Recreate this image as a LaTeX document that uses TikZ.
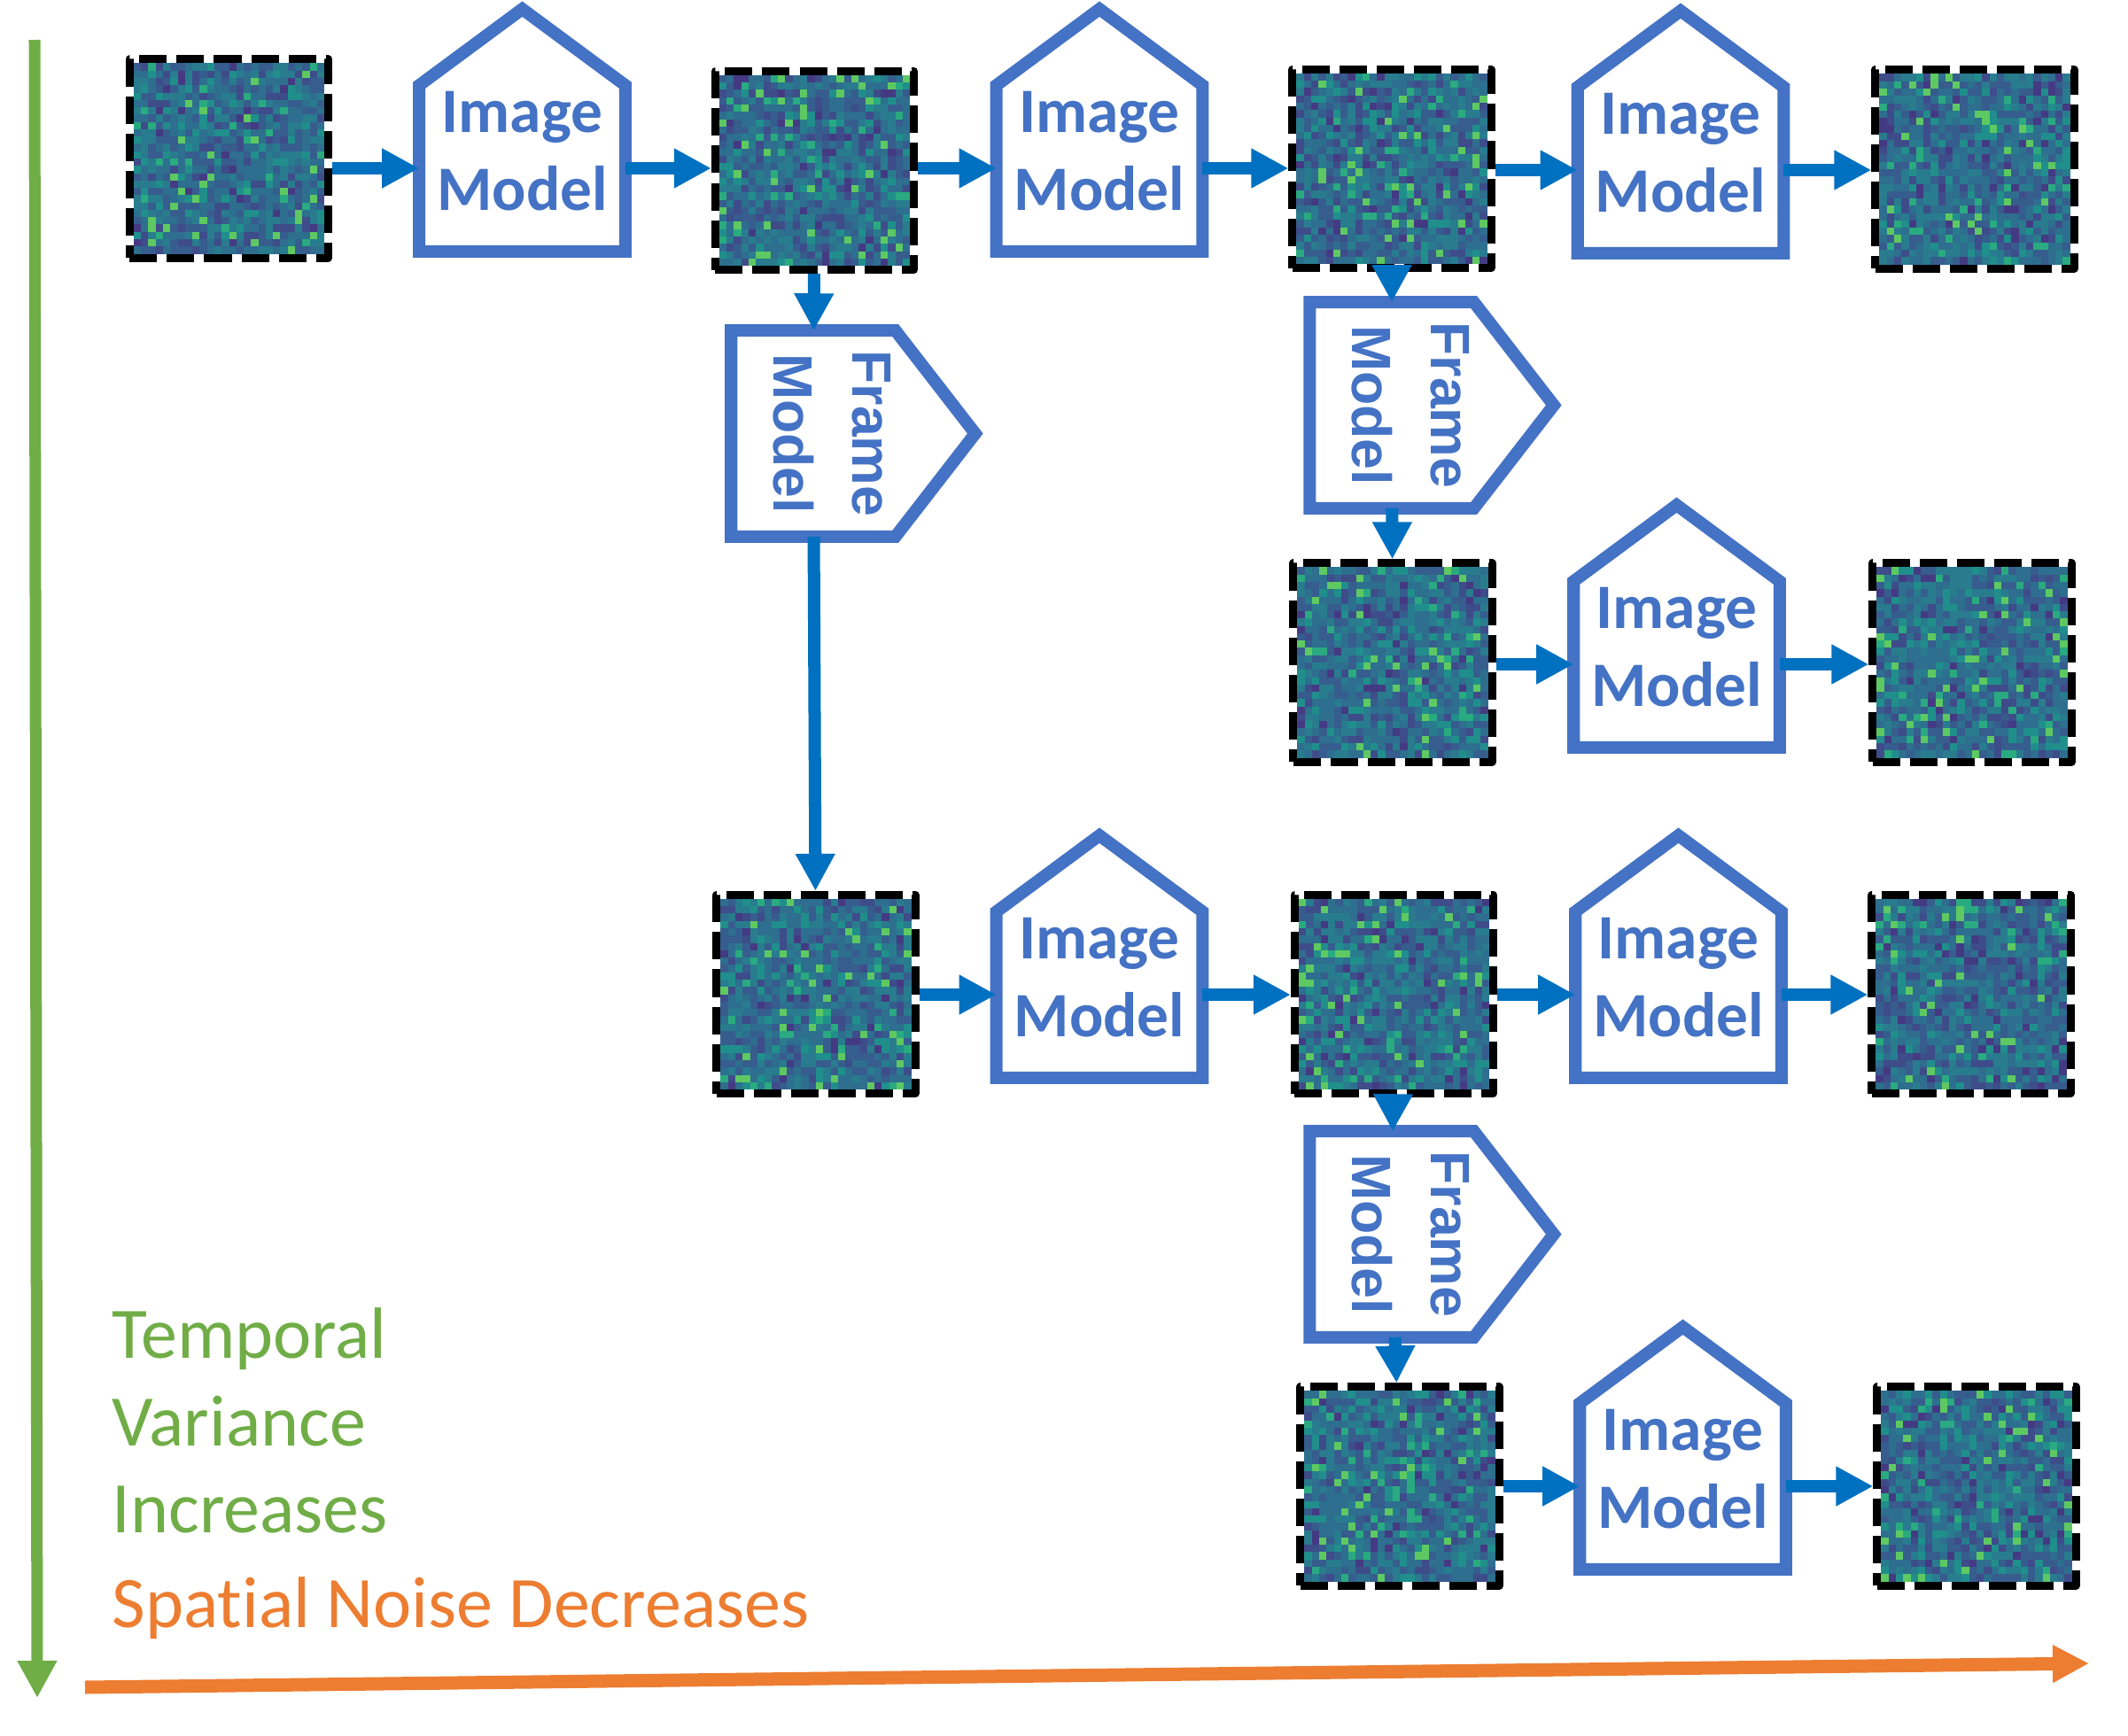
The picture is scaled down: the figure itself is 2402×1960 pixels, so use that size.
\documentclass[tikz,border=0pt]{standalone}
\usepackage{graphicx}
\usepackage{fontspec}
\setmainfont{Carlito}[Ligatures=NoCommon]
\newfontfamily\framefont{Liberation Sans}
\usetikzlibrary{arrows.meta}
\definecolor{mblue}{HTML}{4472C4}
\definecolor{fblue}{HTML}{0070C0}
\definecolor{tgreen}{HTML}{70AD47}
\definecolor{sorange}{HTML}{ED7D31}
\definecolor{nzA}{HTML}{443A83}
\definecolor{nzB}{HTML}{3E4C8A}
\definecolor{nzC}{HTML}{365D8D}
\definecolor{nzD}{HTML}{2E6E8E}
\definecolor{nzE}{HTML}{287C8E}
\definecolor{nzF}{HTML}{208F8C}
\definecolor{nzG}{HTML}{2AAA80}
\definecolor{nzH}{HTML}{5EC962}
\newcommand{\noisecol}[1]{\ifcase#1 nzA\or nzB\or nzB\or nzC\or nzC\or nzC\or nzC\or nzD\or nzD\or nzD\or nzD\or nzD\or nzE\or nzE\or nzE\or nzE\or nzF\or nzF\or nzG\or nzH\fi}
\newcommand{\imlabel}{\raisebox{0pt}[\dimexpr\height-0.29cm\relax][\depth]{\begin{tabular}{@{}c@{}}Image\\Model\end{tabular}}}
\newcommand{\fmlabel}{\makebox[1cm]{\hspace*{0.35cm}\rotatebox{-90}{\begin{tabular}{@{}c@{}}Frame\\Model\end{tabular}}}}
\pgfmathsetseed{4711}

\begin{document}
\begin{tikzpicture}[x=0.01cm,y=-0.01cm]
            \tikzstyle{every node}+=[inner sep=0pt]
            \tikzstyle{noisebox}=[draw=black, line width=0.09cm, dash pattern=on 0.31cm off 0.11cm, line join=round, minimum size=2.24cm,
              path picture={
                \foreach \i in {0,...,25}{\foreach \j in {0,...,25}{
                  \pgfmathrandominteger{\k}{0}{19}\edef\ncol{\noisecol{\k}}
                  \fill[\ncol] ([xshift=0.045cm+\i*0.0827cm,yshift=0.045cm+\j*0.0827cm]path picture bounding box.south west) rectangle ++(0.0835cm,0.0835cm);}}}]
            \tikzstyle{imgmodel}=[minimum width=2.31cm, minimum height=1.86cm, text=mblue, font=\fontsize{20.3}{25}\selectfont\bfseries]
            \tikzstyle{framemodel}=[minimum width=1.84cm, minimum height=2.31cm, text=mblue, font=\fontsize{17.8}{25.3}\framefont\bfseries]
            \tikzstyle{outline}=[draw=mblue, line width=0.14cm]
            \tikzstyle{flow}=[draw=fblue, line width=0.14cm, -{Triangle[length=0.42cm,width=0.42cm]}]
            \tikzstyle{axislabel}=[anchor=base west, font=\fontsize{23.3}{28}\selectfont]
            \useasboundingbox (0,0) rectangle (2402,1960);
            \node[noisebox] (s1) at (258.5,179) {};
            \node[noisebox] (s2) at (919.5,192.5) {};
            \node[noisebox] (s3) at (1571,190.5) {};
            \node[noisebox] (s4) at (2229,191) {};
            \node[noisebox] (s5) at (1572,748) {};
            \node[noisebox] (s6) at (2226,748) {};
            \node[noisebox] (s7) at (921,1122.5) {};
            \node[noisebox] (s8) at (1573.5,1122.5) {};
            \node[noisebox] (s9) at (2225,1122.5) {};
            \node[noisebox] (s10) at (1580,1678) {};
            \node[noisebox] (s11) at (2231,1678) {};
            \node[imgmodel] (im1) at (589.5,190) {\imlabel};
            \node[imgmodel] (im2) at (1241,190) {\imlabel};
            \node[imgmodel] (im3) at (1897,192) {\imlabel};
            \node[imgmodel] (im4) at (1892.5,750) {\imlabel};
            \node[imgmodel] (im5) at (1241,1123) {\imlabel};
            \node[imgmodel] (im6) at (1894.5,1123) {\imlabel};
            \node[imgmodel] (im7) at (1899.5,1678) {\imlabel};
            \node[framemodel] (fm1) at (918,489.5) {\fmlabel};
            \node[framemodel] (fm2) at (1571,457.5) {\fmlabel};
            \node[framemodel] (fm3) at (1571,1393.5) {\fmlabel};
            \foreach \n in {im1,im2,im3,im4,im5,im6,im7}
              \draw[outline] (\n.south west) -- (\n.north west) -- ([yshift=0.86cm]\n.north) -- (\n.north east) -- (\n.south east) -- cycle;
            \foreach \n in {fm1,fm2,fm3}
              \draw[outline] (\n.south west) -- (\n.north west) -- (\n.north east) -- ([xshift=0.9cm]\n.east) -- (\n.south east) -- cycle;
            \foreach \a/\b in {s1/im1,s2/im2,s3/im3,s5/im4,s7/im5,s8/im6,s10/im7}
              \draw[flow] (\a.east |- \b) -- (\b);
            \foreach \a/\b in {im1/s2,im2/s3,im3/s4,im4/s6,im5/s8,im6/s9,im7/s11}
              \draw[flow] (\a) -- (\b.west |- \a);
            \foreach \a/\b in {s2/fm1,fm1/s7,s3/fm2,fm2/s5,s8/fm3,fm3/s10}
              \draw[flow] (\a) -- (\b);
            \node[axislabel, text=tgreen] (t1) at (126,1533) {Temporal};
            \node[axislabel, text=tgreen] (t2) at (126,1632) {Variance};
            \node[axislabel, text=tgreen] (t3) at (126,1730) {Increases};
            \node[axislabel, text=sorange] (t4) at (126,1837) {Spatial Noise Decreases};
            \coordinate (ttop) at (39,45);
            \coordinate (tend) at (42,1917);
            \coordinate (sstart) at (96,1905);
            \coordinate (send) at (2358,1878);
            \draw[tgreen, line width=0.13cm, -{Triangle[length=0.42cm,width=0.42cm]}] (ttop) -- (tend);
            \draw[sorange, line width=0.15cm, -{Triangle[length=0.41cm,width=0.40cm]}] (sstart) -- (send);
\end{tikzpicture}
\end{document}
